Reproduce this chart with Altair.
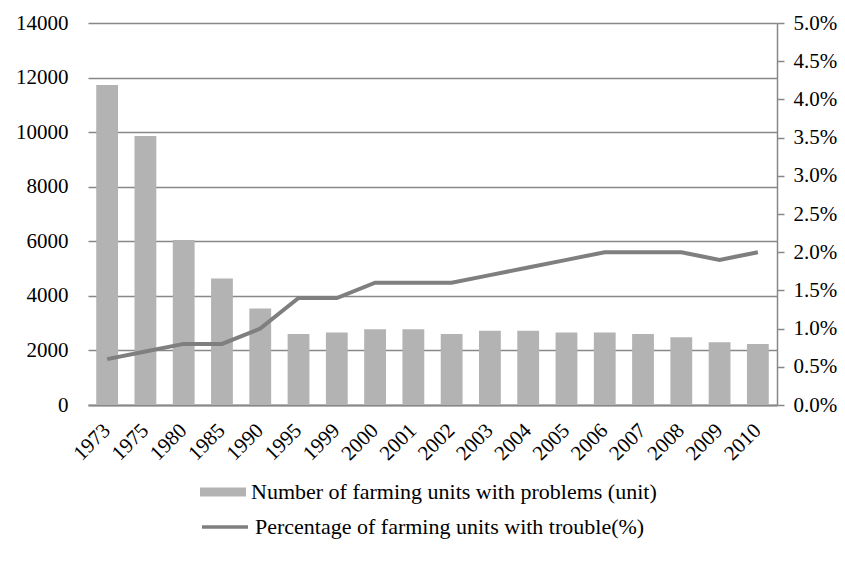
import altair as alt
import pandas as pd

years = ["1973", "1975", "1980", "1985", "1990", "1995", "1999", "2000", "2001",
         "2002", "2003", "2004", "2005", "2006", "2007", "2008", "2009", "2010"]
units = [11730, 9860, 6050, 4640, 3540, 2600, 2660, 2780, 2780,
         2600, 2720, 2720, 2660, 2660, 2600, 2480, 2300, 2235]
pct = [0.6, 0.7, 0.8, 0.8, 1.0, 1.4, 1.4, 1.6, 1.6,
       1.6, 1.7, 1.8, 1.9, 2.0, 2.0, 2.0, 1.9, 2.0]

bar_name = "Number of farming units with problems (unit)"
line_name = "Percentage of farming units with trouble(%)"

df = pd.DataFrame({
    "year": years,
    "units": units,
    "pct": [p / 100 for p in pct],
    "bar_series": [bar_name] * len(years),
    "line_series": [line_name] * len(years),
})

FONT = "Liberation Serif, Times New Roman, serif"
GRID = "#888888"
FS = 21
LFS = 22

base = alt.Chart(df).encode(
    x=alt.X("year:N", sort=years, title=None,
            scale=alt.Scale(paddingInner=0.43, paddingOuter=0.215),
            axis=alt.Axis(labelAngle=-45, labelAlign="right", labelBaseline="middle",
                          labelFont=FONT, labelFontSize=FS, labelColor="black",
                          labelPadding=22, ticks=False, domainColor=GRID,
                          domainWidth=2))
)

bars = base.mark_bar(color="#b3b3b3").encode(
    y=alt.Y("units:Q", title=None,
            scale=alt.Scale(domain=[0, 14000]),
            axis=alt.Axis(values=list(range(0, 14001, 2000)), format="d",
                          grid=True, gridColor=GRID, gridWidth=1.3,
                          domain=False, ticks=False,
                          labelFont=FONT, labelFontSize=FS, labelColor="black",
                          labelPadding=20)),
    fill=alt.Fill("bar_series:N", title=None,
                  scale=alt.Scale(domain=[bar_name], range=["#b3b3b3"]),
                  legend=alt.Legend(orient="none", legendX=112, legendY=446,
                                    symbolType="M-1,-0.2H1V0.2H-1Z", symbolSize=2116,
                                    symbolStrokeWidth=0,
                                    labelFont=FONT, labelFontSize=LFS, labelColor="black",
                                    labelLimit=700, labelOffset=5, padding=0)),
)

line = base.mark_line(color="#7f7f7f", strokeWidth=4).encode(
    y=alt.Y("pct:Q", title=None,
            scale=alt.Scale(domain=[0, 0.05]),
            axis=alt.Axis(orient="right",
                          values=[i * 0.005 for i in range(11)], format=".1%",
                          grid=False, domain=True, domainColor=GRID, domainWidth=1.5,
                          ticks=True, tickColor=GRID, tickSize=7, tickWidth=1.5,
                          labelFont=FONT, labelFontSize=FS, labelColor="black",
                          labelPadding=9)),
    stroke=alt.Stroke("line_series:N", title=None,
                      scale=alt.Scale(domain=[line_name], range=["#7f7f7f"]),
                      legend=alt.Legend(orient="none", legendX=112, legendY=479,
                                        symbolType="stroke", symbolSize=2116,
                                        symbolStrokeWidth=3.5,
                                        labelFont=FONT, labelFontSize=LFS, labelColor="black",
                                        labelLimit=700, labelOffset=5, padding=0)),
)

chart = alt.layer(bars, line).resolve_scale(y="independent").properties(
    width=689,
    height=382,
    autosize=alt.AutoSizeParams(type="none"),
    padding={"left": 80, "top": 15, "right": 60, "bottom": 151},
).configure_view(stroke=None)

chart.save("out.html", embed_options={"renderer": "svg", "actions": False})
